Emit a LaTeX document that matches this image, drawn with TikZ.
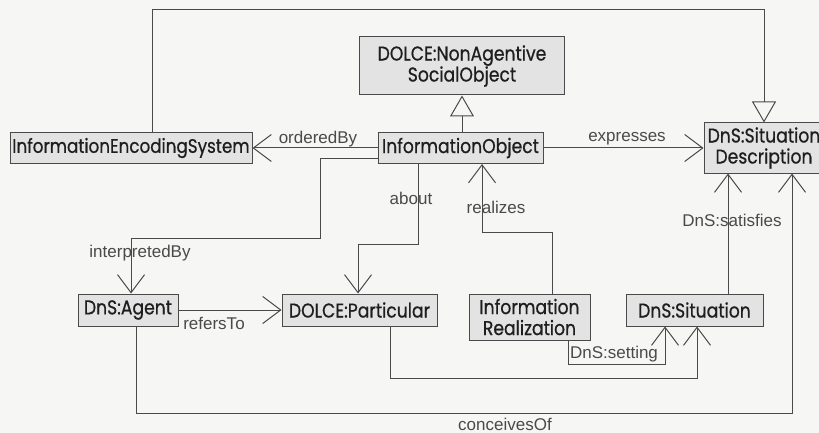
\documentclass[tikz,border=0pt]{standalone}
\usepackage{fontspec}
\setmainfont{Liberation Sans}
\newfontfamily\boxfont[FakeStretch=0.86,FakeBold=0.6]{Poppins}
\usetikzlibrary{arrows.meta}
\definecolor{bg}{HTML}{F6F6F4}
\definecolor{boxfill}{HTML}{E3E3E3}
\definecolor{ink}{HTML}{4A4A4A}
\definecolor{boxtext}{HTML}{1E1E1E}
\begin{document}
\begin{tikzpicture}[x=1pt,y=-1pt,
  cls/.style={draw=ink, fill=boxfill, line width=1pt, inner sep=0pt, align=center,
    font=\boxfont\fontsize{20}{21}\selectfont, text=boxtext},
  lbl/.style={font=\fontsize{17}{20}\selectfont, text=ink, inner sep=0pt},
  isa/.style={draw=ink, line width=1pt, -{Triangle[open,length=21pt,width=24pt]}},
  rel/.style={draw=ink, line width=1pt, -{Straight Barb[length=18pt,width=27pt]}}]

\fill[bg] (0,0) rectangle (819,433);
\useasboundingbox (0,0) rectangle (819,433);

% classes
\node[cls, minimum width=242pt, minimum height=30pt,
      font=\boxfont\fontsize{19.5}{21}\selectfont] (ies) at (131,148) {InformationEncodingSystem};
\node[cls, minimum width=205pt, minimum height=58pt] (nas)  at (462,66)    {DOLCE:NonAgentive\\SocialObject};
\node[cls, minimum width=165pt, minimum height=31pt] (io)   at (460.5,148) {InformationObject};
\node[cls, minimum width=120pt, minimum height=50pt] (sd)   at (764,148)   {DnS:Situation\\Description};
\node[cls, minimum width=100pt, minimum height=32pt] (ag)   at (128,310)   {DnS:Agent};
\node[cls, minimum width=155pt, minimum height=32pt] (part) at (359.5,310) {DOLCE:Particular};
\node[cls, minimum width=121pt, minimum height=46pt] (ir)   at (529.5,317) {Information\\Realization};
\node[cls, minimum width=137pt, minimum height=32pt] (sit)  at (694.5,310) {DnS:Situation};

% bend points
\coordinate (t1) at (152,10);  \coordinate (t2) at (764,10);
\coordinate (i1) at (320,158); \coordinate (i2) at (320,238); \coordinate (i3) at (131,238);
\coordinate (a1) at (418,244); \coordinate (a2) at (358,244);
\coordinate (r1) at (552,232); \coordinate (r2) at (482,232);
\coordinate (s1) at (728,0);
\coordinate (c1) at (136,413); \coordinate (c2) at (792,413);
\coordinate (g1) at (568,364); \coordinate (g2) at (665,364);
\coordinate (p1) at (390,378); \coordinate (p2) at (697,378);

% generalisations
\draw[isa] (t1 |- ies.north) -- (t1) -- (t2) -- (sd.north);
\draw[isa] (io.north -| 462,0) -- (nas.south -| 462,0);

% associations
\draw[rel] (io.west) -- (ies.east);
\node[lbl] at (318,139) {orderedBy};

\draw[rel] (io.east) -- (sd.west);
\node[lbl] at (627,139) {expresses};

\draw[rel] (io.west |- i1) -- (i1) -- (i2) -- (i3) -- (i3 |- ag.north);
\node[lbl] at (140,253) {interpretedBy};

\draw[rel] (a1 |- io.south) -- (a1) -- (a2) -- (a2 |- part.north);
\node[lbl] at (411,198) {about};

\draw[rel] (r1 |- ir.north) -- (r1) -- (r2) -- (r2 |- io.south);
\node[lbl] at (496,207) {realizes};

\draw[rel] (ag.east) -- (part.west);
\node[lbl] at (214,323) {refersTo};

\draw[rel] (s1 |- sit.north) -- (s1 |- sd.south);
\node[lbl] at (732,220) {DnS:satisfies};

\draw[rel] (c1 |- ag.south) -- (c1) -- (c2) -- (c2 |- sd.south);
\node[lbl, anchor=base] at (505,430) {conceivesOf};

\draw[rel] (g1 |- ir.south) -- (g1) -- (g2) -- (g2 |- sit.south);
\node[lbl] at (614,354) {DnS:setting};

\draw[rel] (p1 |- part.south) -- (p1) -- (p2) -- (p2 |- sit.south);
\end{tikzpicture}
\end{document}
